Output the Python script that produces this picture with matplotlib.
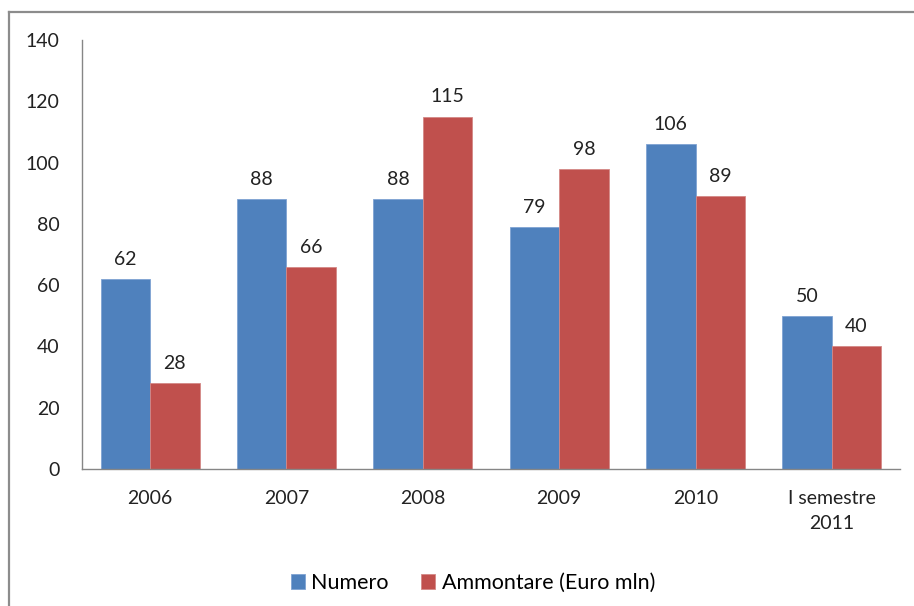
import numpy as np
import matplotlib.pyplot as plt
from matplotlib.lines import Line2D

# Data
categories = ['2006', '2007', '2008', '2009', '2010', 'I semestre\n2011']
numero = [62, 88, 88, 79, 106, 50]
ammontare = [28, 66, 115, 98, 89, 40]
series_names = ['Numero', 'Ammontare (Euro mln)']

blue = '#4F81BD'
red = '#C0504D'
plt.rcParams['font.family'] = ['Lato', 'DejaVu Sans']

fig = plt.figure(figsize=(9.14, 6.06), dpi=100)
ax = fig.add_axes([0.0897, 0.2261, 0.895, 0.708])

x = np.arange(len(categories))
w = 0.363
b1 = ax.bar(x - w / 2, numero, w, color=blue, label=series_names[0],
            edgecolor='#7fa3d3', linewidth=0.6)
b2 = ax.bar(x + w / 2, ammontare, w, color=red, label=series_names[1],
            edgecolor='#d48886', linewidth=0.6)

for bars in (b1, b2):
    for rect in bars:
        h = rect.get_height()
        ax.annotate(f'{h:g}', (rect.get_x() + rect.get_width() / 2, h),
                    xytext=(0, 8), textcoords='offset points',
                    ha='center', va='bottom', fontsize=14, color='#222222')

ax.set_xlim(-0.5, len(categories) - 0.5)
ax.set_ylim(0, 140)
ax.set_yticks(range(0, 141, 20))
ax.set_xticks(x)
ax.set_xticklabels(categories)
ax.tick_params(axis='both', length=0, labelsize=14, colors='#222222')
ax.tick_params(axis='y', pad=16)
ax.tick_params(axis='x', pad=15)
for lbl in ax.get_xticklabels():
    lbl.set_linespacing(1.55)
    lbl.set_va('top')

ax.spines['top'].set_visible(False)
ax.spines['right'].set_visible(False)
for s in ('left', 'bottom'):
    ax.spines[s].set_color('#868686')
    ax.spines[s].set_linewidth(1)

ax.legend(loc='center', bbox_to_anchor=(0.478, -0.266), ncol=2, frameon=False,
          fontsize=15.5, handlelength=0.65, handleheight=0.65, handletextpad=0.3,
          columnspacing=1.5)

# outer chart border
border_color = '#8c8c8c'
fig.add_artist(Line2D([9 / 914, 9 / 914], [0, 1 - 12 / 606], transform=fig.transFigure,
                      color=border_color, linewidth=1.6))
fig.add_artist(Line2D([9 / 914, 1], [1 - 12 / 606, 1 - 12 / 606], transform=fig.transFigure,
                      color=border_color, linewidth=1.6))

fig.savefig('out.png', dpi=100)
